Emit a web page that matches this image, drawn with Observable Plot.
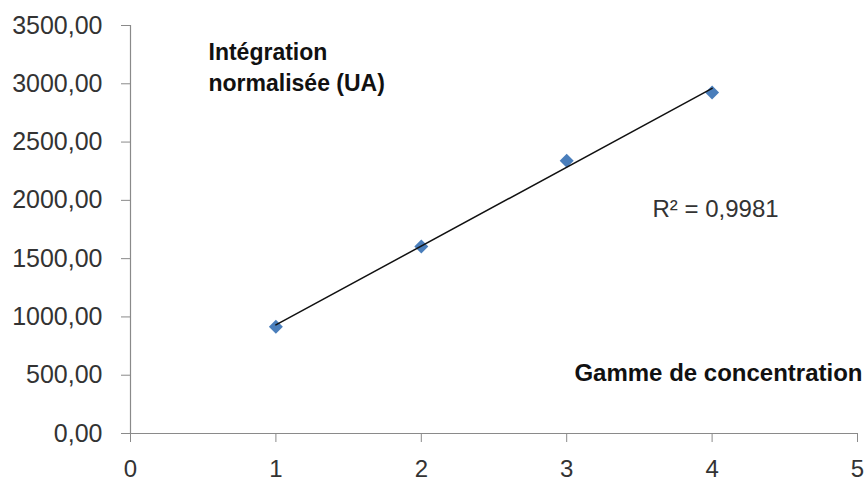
<!DOCTYPE html>
<html>
<head>
<meta charset="utf-8">
<script src="https://cdn.jsdelivr.net/npm/d3@7"></script>
<script src="https://cdn.jsdelivr.net/npm/@observablehq/plot@0.6"></script>
<style>
  html, body { margin: 0; padding: 0; background: #fff; }
</style>
</head>
<body>
<div id="chart"></div>
<script>
// Data
const concentrations = [1, 2, 3, 4];
const integrations = [915, 1605, 2340, 2925];
const xTicks = [0, 1, 2, 3, 4, 5];
const yTicks = [0, 500, 1000, 1500, 2000, 2500, 3000, 3500];
const yTitle = "Intégration\nnormalisée (UA)";
const xTitle = "Gamme de concentration";
const r2Text = "R² = 0,9981";

const points = concentrations.map((c, i) => ({x: c, y: integrations[i]}));
const fmt = v => v.toFixed(2).replace(".", ",");
const axisColor = "#8a8a8a";
const font = "'Liberation Sans', Arial, sans-serif";

const chart = Plot.plot({
  width: 866,
  height: 486,
  marginLeft: 130,
  marginRight: 9,
  marginTop: 25,
  marginBottom: 53,
  style: {fontFamily: font, fontSize: "25px", color: "#333", background: "#fff"},
  x: {domain: [0, 5], axis: null},
  y: {domain: [0, 3500], axis: null},
  marks: [
    Plot.ruleX([0], {stroke: axisColor, strokeWidth: 1.2}),
    Plot.ruleY([0], {stroke: axisColor, strokeWidth: 1.2}),
    Plot.axisY({ticks: yTicks, tickFormat: fmt, tickSize: 9, tickPadding: 19,
      stroke: axisColor, strokeOpacity: 1, fill: "#333", label: null}),
    Plot.axisX({ticks: xTicks, tickFormat: d => String(d), tickSize: 9, tickPadding: 17,
      fontSize: 24, stroke: axisColor, strokeOpacity: 1, fill: "#333", label: null}),
    Plot.dot(points, {x: "x", y: "y", symbol: "diamond2", r: 6.3, fill: "#4a7ebb", stroke: "none"}),
    Plot.linearRegressionY(points, {x: "x", y: "y", stroke: "#111", strokeWidth: 1.5, ci: 0}),
    Plot.text([yTitle], {frameAnchor: "top-left", dx: 78, dy: 12, textAnchor: "start",
      lineAnchor: "top", lineHeight: 1.35, fontWeight: "bold", fontSize: 23, fill: "#111"}),
    Plot.text([r2Text], {frameAnchor: "top-left", dx: 522, dy: 184, textAnchor: "start",
      lineAnchor: "middle", fontSize: 24, fill: "#333"}),
    Plot.text([xTitle], {frameAnchor: "top-right", dx: 5, dy: 348, textAnchor: "end",
      lineAnchor: "middle", fontWeight: "bold", fontSize: 24, fill: "#111"})
  ]
});
document.getElementById("chart").appendChild(chart);
</script>
</body>
</html>
